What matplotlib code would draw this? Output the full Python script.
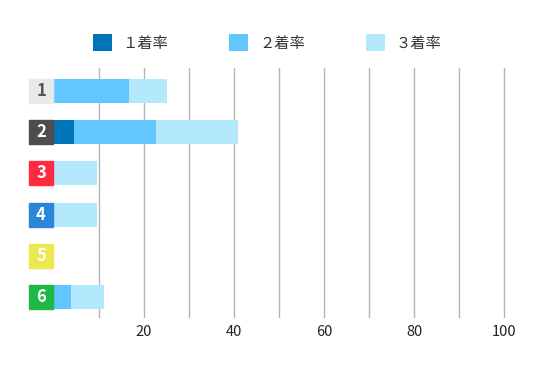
import numpy as np
import matplotlib.pyplot as plt
from matplotlib.patches import Rectangle
import matplotlib.transforms as mtransforms

plt.rcParams['font.family'] = ['Noto Sans CJK JP', 'DejaVu Sans']

# data
lanes = ['1', '2', '3', '4', '5', '6']
first = [0.0, 4.5, 0.0, 0.0, 0.0, 0.0]
second = [16.7, 18.2, 0.0, 0.0, 0.0, 3.7]
third = [8.3, 18.2, 9.5, 9.5, 0.0, 7.4]
series_names = ['１着率', '２着率', '３着率']
series_colors = ['#0074b9', '#62c7ff', '#b3e8fd']
lane_colors = ['#e9e9e9', '#4d4d4d', '#ff2a40', '#2a86d6', '#ebe850', '#1db846']
lane_text = ['#555555', 'white', 'white', 'white', 'white', 'white']

fig = plt.figure(figsize=(5.4, 3.65), dpi=100)
ax = fig.add_axes([54 / 540, 47 / 365, 452 / 540, 250 / 365])

y = np.arange(len(lanes))
first = np.array(first)
second = np.array(second)
third = np.array(third)
h = 0.58
b1 = ax.barh(y, first, height=h, color=series_colors[0], label=series_names[0], zorder=3)
b2 = ax.barh(y, second, left=first, height=h, color=series_colors[1], label=series_names[1], zorder=3)
b3 = ax.barh(y, third, left=first + second, height=h, color=series_colors[2], label=series_names[2], zorder=3)

ax.set_xlim(0, 100.4)
ax.set_ylim(5.51, -0.56)

# lane label boxes left of the axis
trans = mtransforms.blended_transform_factory(ax.transAxes, ax.transData)
box_w = 24 / 452
for i, lane in enumerate(lanes):
    ax.add_patch(Rectangle((-25 / 452, i - h / 2), box_w, h, transform=trans,
                           color=lane_colors[i], clip_on=False, zorder=4))
    ax.text(-13 / 452, i, lane, transform=trans, ha='center', va='center',
            fontsize=12, fontweight='bold', color=lane_text[i], zorder=5)

ticks = np.arange(10, 101, 10)
ax.set_xticks(ticks)
ax.set_xticklabels([str(t) if t % 20 == 0 else '' for t in ticks], fontsize=10.5, color='#222222')
ax.tick_params(axis='x', length=0, pad=5)
ax.set_yticks([])
ax.grid(axis='x', color='#b5b5b5', linewidth=1, zorder=0)
for s in ax.spines.values():
    s.set_visible(False)

fig.legend(handles=[b1, b2, b3], loc='center', bbox_to_anchor=(267 / 540, 1 - 43 / 365),
           ncol=3, frameon=False, fontsize=11, handlelength=1.25, handleheight=1.25,
           handletextpad=0.7, columnspacing=4.0, labelcolor='#333333')

plt.savefig('out.png', dpi=100)
